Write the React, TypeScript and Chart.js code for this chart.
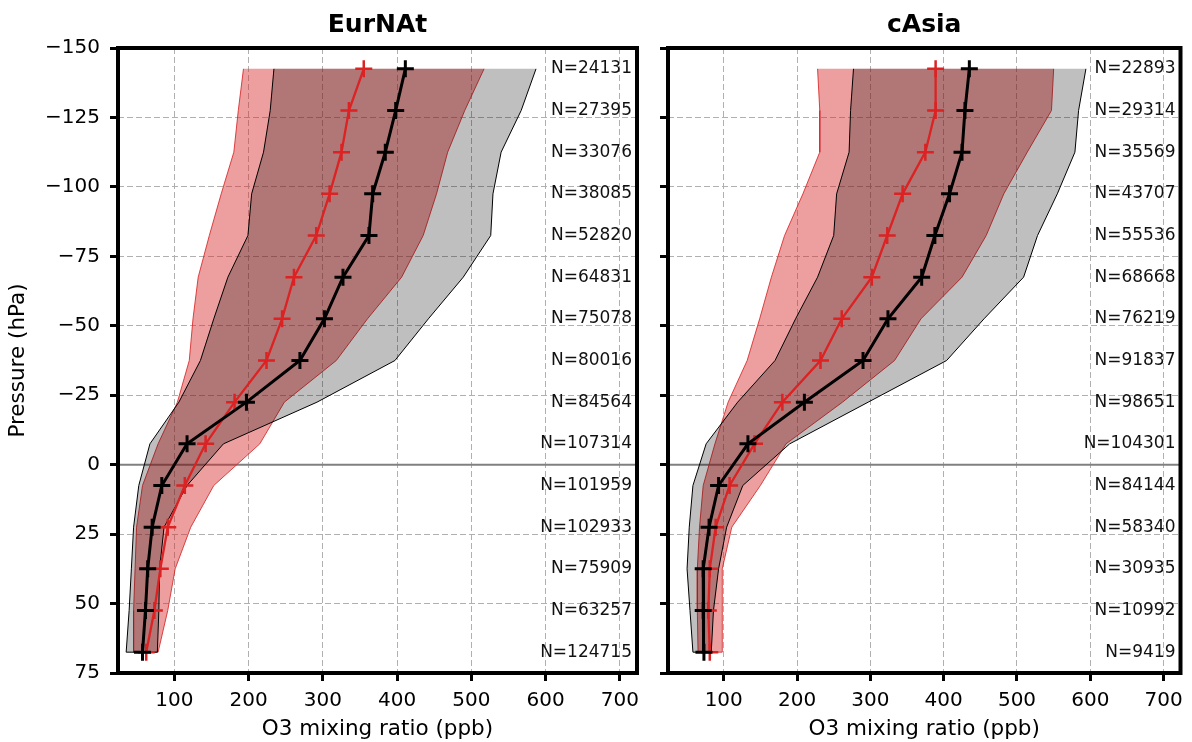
import React, { useEffect, useRef } from 'react';
import { Chart, registerables } from 'chart.js';

Chart.register(...registerables);

// Pressure levels relative to tropopause (hPa)
const levels = [-142.5, -127.5, -112.5, -97.5, -82.5, -67.5, -52.5, -37.5, -22.5, -7.5, 7.5, 22.5, 37.5, 52.5, 67.5];
const xTicks = [100, 200, 300, 400, 500, 600, 700];
const yTicks = [-150, -125, -100, -75, -50, -25, 0, 25, 50, 75];

// EurNAt
const eurBlackMedian = [411, 398, 384, 367, 362, 327, 302, 269, 197, 117, 83, 70, 64, 61, 57];
const eurBlackLo = [234, 229, 220, 204, 199, 172, 153, 135, 106, 67, 52, 45, 42, 39, 35];
const eurBlackHi = [587, 567, 540, 529, 526, 489, 442, 397, 292, 166, 117, 86, 80, 79, 77];
const eurRedMedian = [355, 335, 325, 309, 291, 261, 245, 224, 181, 142, 114, 91, 81, 73, 62];
const eurRedLo = [193, 186, 180, 163, 147, 132, 125, 120, 104, 78, 57, 49, 47, 45, 45];
const eurRedHi = [517, 491, 468, 453, 435, 406, 360, 318, 248, 215, 153, 122, 101, 91, 78];
const eurN = [24131, 27395, 33076, 38085, 52820, 64831, 75078, 80016, 84564, 107314, 101959, 102933, 75909, 63257, 124715];

// cAsia
const asiaBlackMedian = [435, 429, 425, 408, 388, 370, 324, 290, 210, 133, 93, 80, 72, 72, 73];
const asiaBlackLo = [277, 273, 271, 254, 250, 228, 198, 170, 119, 76, 58, 53, 50, 54, 58];
const asiaBlackHi = [594, 584, 579, 555, 528, 509, 455, 404, 297, 190, 126, 104, 93, 86, 83];
const asiaRedMedian = [389, 389, 375, 344, 323, 302, 261, 232, 180, 142, 108, 89, 81, 79, 81];
const asiaRedLo = [228, 231, 231, 208, 183, 165, 149, 132, 106, 88, 72, 67, 64, 64, 65];
const asiaRedHi = [550, 547, 514, 482, 458, 425, 369, 333, 262, 185, 150, 111, 98, 98, 98];
const asiaN = [22893, 29314, 35569, 43707, 55536, 68668, 76219, 91837, 98651, 104301, 84144, 58340, 30935, 10992, 9419];

const X_MIN = 24;
const X_MAX = 723;
const FONT = 'DejaVu Sans';
const RED = '#dc2223';

const profile = (xs: number[]) => xs.map((x, i) => ({ x, y: levels[i] }));
const polygon = (lo: number[], hi: number[]) => profile(lo).concat(profile(hi).reverse());

const fmt = (v: number) => (v < 0 ? '\u2212' + Math.abs(v) : String(v));

interface PanelProps {
  title: string;
  blackMedian: number[];
  blackLo: number[];
  blackHi: number[];
  redMedian: number[];
  redLo: number[];
  redHi: number[];
  counts: number[];
  showYLabels: boolean;
  width: number;
  left: number;
  axisWidth: number;
  padRight: number;
}

function Panel(p: PanelProps) {
  const ref = useRef<HTMLCanvasElement>(null);
  useEffect(() => {
    if (!ref.current) return;
    const decor = {
      id: 'decor',
      beforeDatasetsDraw(chart: any) {
        const { ctx, chartArea } = chart;
        const y0 = chart.scales.y.getPixelForValue(0);
        ctx.save();
        ctx.strokeStyle = '#808080';
        ctx.lineWidth = 2;
        ctx.beginPath();
        ctx.moveTo(chartArea.left, y0);
        ctx.lineTo(chartArea.right, y0);
        ctx.stroke();
        ctx.restore();
      },
      afterDatasetsDraw(chart: any) {
        const { ctx, chartArea } = chart;
        ctx.save();
        ctx.font = `17px "${FONT}"`;
        ctx.fillStyle = '#111';
        ctx.textAlign = 'right';
        ctx.textBaseline = 'middle';
        levels.forEach((lv, i) => {
          ctx.fillText('N=' + p.counts[i], chartArea.right - 5, chart.scales.y.getPixelForValue(lv));
        });
        ctx.restore();
      },
      afterDraw(chart: any) {
        const { ctx, chartArea } = chart;
        ctx.save();
        ctx.strokeStyle = '#000';
        ctx.lineWidth = 4;
        ctx.strokeRect(chartArea.left, chartArea.top, chartArea.right - chartArea.left, chartArea.bottom - chartArea.top);
        ctx.restore();
      },
    };

    const grid = {
      color: '#b0b0b0',
      lineWidth: 1,
      drawTicks: true,
      tickLength: 8,
      tickWidth: 3,
      tickColor: '#000',
      tickBorderDash: [],
    };

    const chart = new Chart(ref.current, {
      type: 'scatter',
      data: {
        datasets: [
          {
            label: 'black median',
            data: profile(p.blackMedian),
            showLine: true,
            borderColor: '#000',
            borderWidth: 3,
            pointStyle: 'cross',
            pointRadius: 8.5,
            pointBorderWidth: 3,
            pointBorderColor: '#000',
            pointBackgroundColor: '#000',
            fill: false,
          },
          {
            label: 'red median',
            data: profile(p.redMedian),
            showLine: true,
            borderColor: RED,
            borderWidth: 2.3,
            pointStyle: 'cross',
            pointRadius: 8.5,
            pointBorderWidth: 2.5,
            pointBorderColor: RED,
            pointBackgroundColor: RED,
            fill: false,
          },
          {
            label: 'black range',
            data: polygon(p.blackLo, p.blackHi),
            showLine: true,
            fill: 'shape',
            backgroundColor: 'rgba(0,0,0,0.25)',
            borderColor: '#000',
            borderWidth: 1,
            pointRadius: 0,
          },
          {
            label: 'red range',
            data: polygon(p.redLo, p.redHi),
            showLine: true,
            fill: 'shape',
            backgroundColor: 'rgba(214,39,40,0.45)',
            borderColor: 'rgba(214,39,40,0.85)',
            borderWidth: 1,
            pointRadius: 0,
          },
        ],
      } as any,
      options: {
        animation: false,
        responsive: false,
        events: [],
        layout: { padding: { left: 0, right: p.padRight, top: 0, bottom: 0 } },
        plugins: {
          legend: { display: false },
          tooltip: { enabled: false },
          title: {
            display: true,
            text: p.title,
            fullSize: false,
            color: '#000',
            font: { family: FONT, size: 25, weight: 'bold' },
            padding: { top: 10, bottom: 8 },
          },
        },
        scales: {
          x: {
            type: 'linear',
            min: X_MIN,
            max: X_MAX,
            afterBuildTicks: (s: any) => {
              s.ticks = xTicks.map((v) => ({ value: v }));
            },
            afterFit: (s: any) => {
              s.height = 69;
            },
            ticks: {
              color: '#000',
              font: { family: FONT, size: 20 },
              padding: 8,
              maxRotation: 0,
              callback: (v: any) => fmt(Number(v)),
            },
            grid,
            border: { display: false, dash: [6, 3] },
            title: {
              display: true,
              text: 'O3 mixing ratio (ppb)',
              color: '#000',
              font: { family: FONT, size: 21.5 },
              padding: { top: 0, bottom: 0 },
            },
          },
          y: {
            type: 'linear',
            reverse: true,
            min: -150,
            max: 75,
            afterBuildTicks: (s: any) => {
              s.ticks = yTicks.map((v) => ({ value: v }));
            },
            afterFit: (s: any) => {
              s.width = p.axisWidth;
            },
            ticks: {
              color: '#000',
              font: { family: FONT, size: 20 },
              padding: 10,
              callback: (v: any) => (p.showYLabels ? fmt(Number(v)) : ''),
            },
            grid,
            border: { display: false, dash: [6, 3] },
            title: {
              display: p.showYLabels,
              text: 'Pressure (hPa)',
              color: '#000',
              font: { family: FONT, size: 21.5 },
              padding: { top: 6, bottom: 0 },
            },
          },
        },
      } as any,
      plugins: [decor],
    });
    return () => chart.destroy();
  }, []);

  return (
    <canvas
      ref={ref}
      width={p.width}
      height={742}
      style={{ position: 'absolute', left: p.left, top: 0, width: p.width, height: 742 }}
    />
  );
}

export default function App() {
  return (
    <div style={{ position: 'absolute', left: 0, top: 0, width: 1192, height: 742, background: '#fff', overflow: 'hidden' }}>
      <Panel
        title="EurNAt"
        blackMedian={eurBlackMedian}
        blackLo={eurBlackLo}
        blackHi={eurBlackHi}
        redMedian={eurRedMedian}
        redLo={eurRedLo}
        redHi={eurRedHi}
        counts={eurN}
        showYLabels={true}
        width={650}
        left={0}
        axisWidth={118}
        padRight={13}
      />
      <Panel
        title="cAsia"
        blackMedian={asiaBlackMedian}
        blackLo={asiaBlackLo}
        blackHi={asiaBlackHi}
        redMedian={asiaRedMedian}
        redLo={asiaRedLo}
        redHi={asiaRedHi}
        counts={asiaN}
        showYLabels={false}
        width={542}
        left={650}
        axisWidth={18}
        padRight={5}
      />
    </div>
  );
}
